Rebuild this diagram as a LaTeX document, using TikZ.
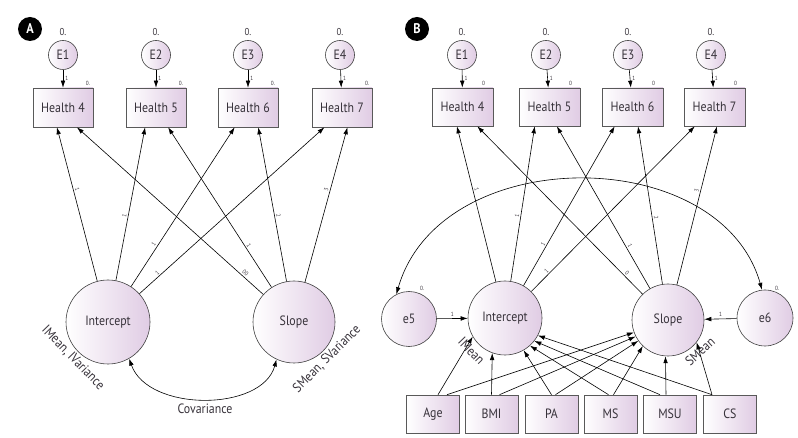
\documentclass[tikz,border=0pt]{standalone}
\usepackage{fontspec}
\setmainfont{PT Sans}[FakeStretch=0.88]
\usetikzlibrary{arrows.meta,calc}
\definecolor{lav}{RGB}{224,204,228}
\definecolor{txt}{RGB}{55,50,58}
\newcommand\mysz{\fontsize{13.5}{14}\selectfont}
\tikzset{
 lat/.style={circle,draw=black!75,line width=0.6pt,left color=white,right color=lav,inner sep=0pt,font=\mysz,text=txt},
 obs/.style={rectangle,draw=black!65,line width=0.6pt,left color=white,right color=lav,minimum width=60pt,minimum height=39pt,inner sep=0pt,font=\mysz,text=txt},
 arr/.style={-{Latex[length=7pt,width=4.6pt]},line width=0.6pt},
 dbl/.style={{Latex[length=7pt,width=4.6pt]}-{Latex[length=7pt,width=4.6pt]},line width=0.6pt},
 plab/.style={font=\fontsize{6}{6}\selectfont,sloped,above,inner sep=1.5pt,text=txt},
 onelab/.style={font=\fontsize{6}{6}\selectfont,inner sep=2pt,text=txt},
 sm/.style={font=\fontsize{10}{10}\selectfont,text=txt,inner sep=0pt},
 tz/.style={font=\fontsize{6}{6}\selectfont,text=txt,inner sep=0pt},
 big/.style={font=\mysz,text=txt,inner sep=0pt},
 badge/.style={circle,fill=black,text=white,font=\bfseries\fontsize{14}{14}\selectfont,minimum size=24pt,inner sep=0pt},
}
\begin{document}
\begin{tikzpicture}[x=1pt,y=-1pt]
\useasboundingbox (0,0) rectangle (798,438);
% ---------------- Panel A ----------------
\node[badge] (bA) at (30,29) {A};
\foreach \n/\x/\h/\hx in {1/63/4/63,2/156/5/156,3/248/6/248,4/340/7/342}{
  \node[lat,minimum size=29pt] (E\n a) at (\x,55) {E\n};
  \node[sm] (z\n a) at (\x,32) {0.};
  \node[obs] (H\h a) at (\hx,107.5) {Health \h};
  \node[tz] (w\n a) at (\hx+25,83) {0.};
  \draw[arr] (E\n a) -- node[right,onelab]{1} (H\h a);
}
\node[lat,minimum size=84pt] (IA) at (108,322) {Intercept};
\node[lat,minimum size=82pt] (SA) at (294,322) {Slope};
\draw[arr] (IA) -- node[plab,pos=0.59]{1} ($(H4a.south west)!0.40!(H4a.south east)$);
\draw[arr] (IA) -- node[plab,pos=0.42]{1} ($(H5a.south west)!0.32!(H5a.south east)$);
\draw[arr] (IA) -- node[plab,pos=0.25]{1} ($(H6a.south west)!0.28!(H6a.south east)$);
\draw[arr] (IA) -- node[plab,pos=0.11]{1} ($(H7a.south west)!0.21!(H7a.south east)$);
\draw[arr] (SA) -- node[plab,pos=0.11]{00} ($(H4a.south west)!0.73!(H4a.south east)$);
\draw[arr] (SA) -- node[plab,pos=0.25]{1} ($(H5a.south west)!0.70!(H5a.south east)$);
\draw[arr] (SA) -- node[plab,pos=0.42]{2} ($(H6a.south west)!0.67!(H6a.south east)$);
\draw[arr] (SA) -- node[plab,pos=0.59]{3} ($(H7a.south west)!0.59!(H7a.south east)$);
\draw[dbl] (IA.300) .. controls (148,412) and (262,412) .. (SA.245);
\node[big] (cov) at (205,409) {Covariance};
\node[big,rotate=-46] (im) at (73,358) {IMean, IVariance};
\node[big,rotate=45] (sm) at (327,359) {SMean, SVariance};
% ---------------- Panel B ----------------
\node[badge] (bB) at (417,29) {B};
\foreach \n/\x/\h/\hx in {1/462/4/462.5,2/546/5/549.5,3/628/6/632.5,4/711/7/714.5}{
  \node[lat,minimum size=29pt] (E\n b) at (\x,55) {E\n};
  \node[sm] (z\n b) at (\x,32) {0.};
  \node[obs,minimum width=61pt,minimum height=38pt] (H\h b) at (\hx,107) {Health \h};
  \node[tz] (w\n b) at (\hx+21,83) {0};
  \draw[arr] (E\n b) -- node[right,onelab]{1} (H\h b);
}
\node[big,rotate=-46] (imb) at (471.5,351) {IMean};
\node[big,rotate=42] (smb) at (700,351.5) {SMean};
\node[lat,minimum size=74pt] (IB) at (505,318) {Intercept};
\node[lat,minimum size=72pt] (SB) at (668,320) {Slope};
\node[lat,minimum size=55pt] (e5) at (409,319) {e5};
\node[lat,minimum size=56pt] (e6) at (765,318) {e6};
\node[tz] (w5) at (422,288) {0.};
\node[tz] (w6) at (777,288) {0.};
\draw[arr] (IB) -- node[plab,pos=0.59]{1} ($(H4b.south west)!0.41!(H4b.south east)$);
\draw[arr] (IB) -- node[plab,pos=0.42]{1} ($(H5b.south west)!0.26!(H5b.south east)$);
\draw[arr] (IB) -- node[plab,pos=0.25]{1} ($(H6b.south west)!0.21!(H6b.south east)$);
\draw[arr] (IB) -- node[plab,pos=0.11]{1} ($(H7b.south west)!0.18!(H7b.south east)$);
\draw[arr] (SB) -- node[plab,pos=0.11]{0} ($(H4b.south west)!0.74!(H4b.south east)$);
\draw[arr] (SB) -- node[plab,pos=0.25]{1} ($(H5b.south west)!0.62!(H5b.south east)$);
\draw[arr] (SB) -- node[plab,pos=0.42]{2} ($(H6b.south west)!0.59!(H6b.south east)$);
\draw[arr] (SB) -- node[plab,pos=0.59]{3} ($(H7b.south west)!0.54!(H7b.south east)$);
\draw[arr] (e5) -- node[above,onelab]{1} (IB);
\draw[arr] (e6) -- node[above,onelab]{1} (SB);
\draw[dbl] (e5.117) .. controls (440,142) and (720,142) .. (e6.96);
% predictors
\foreach \nm/\lab/\x in {Age/Age/433,BMI/BMI/491.5,PA/PA/551.5,MS/MS/610.5,MSU/MSU/670,CS/CS/730}{
  \node[obs,minimum width=53pt,minimum height=38pt] (\nm) at (\x,414) {\lab};
}
\draw[arr] ($(Age.north)+(5,0)$) -- (IB.210);
\draw[arr] ($(BMI.north)+(0,0)$) -- (IB.250);
\draw[arr] ($(PA.north)+(0,0)$) -- (IB.300);
\draw[arr] ($(MS.north)+(-2,0)$) -- (IB.312);
\draw[arr] ($(MSU.north)+(-10,0)$) -- (IB.322);
\draw[arr] ($(CS.north)+(-18,0)$) -- (IB.332);
\draw[arr] ($(Age.north)+(14,0)$) -- (SB.200);
\draw[arr] ($(BMI.north)+(8,0)$) -- (SB.207);
\draw[arr] ($(PA.north)+(4,0)$) -- (SB.215);
\draw[arr] ($(MS.north)+(3,0)$) -- (SB.226);
\draw[arr] ($(MSU.north)+(-4,0)$) -- (SB.266);
\draw[arr] ($(CS.north)+(-18,0)$) -- (SB.322);
\end{tikzpicture}
\end{document}
